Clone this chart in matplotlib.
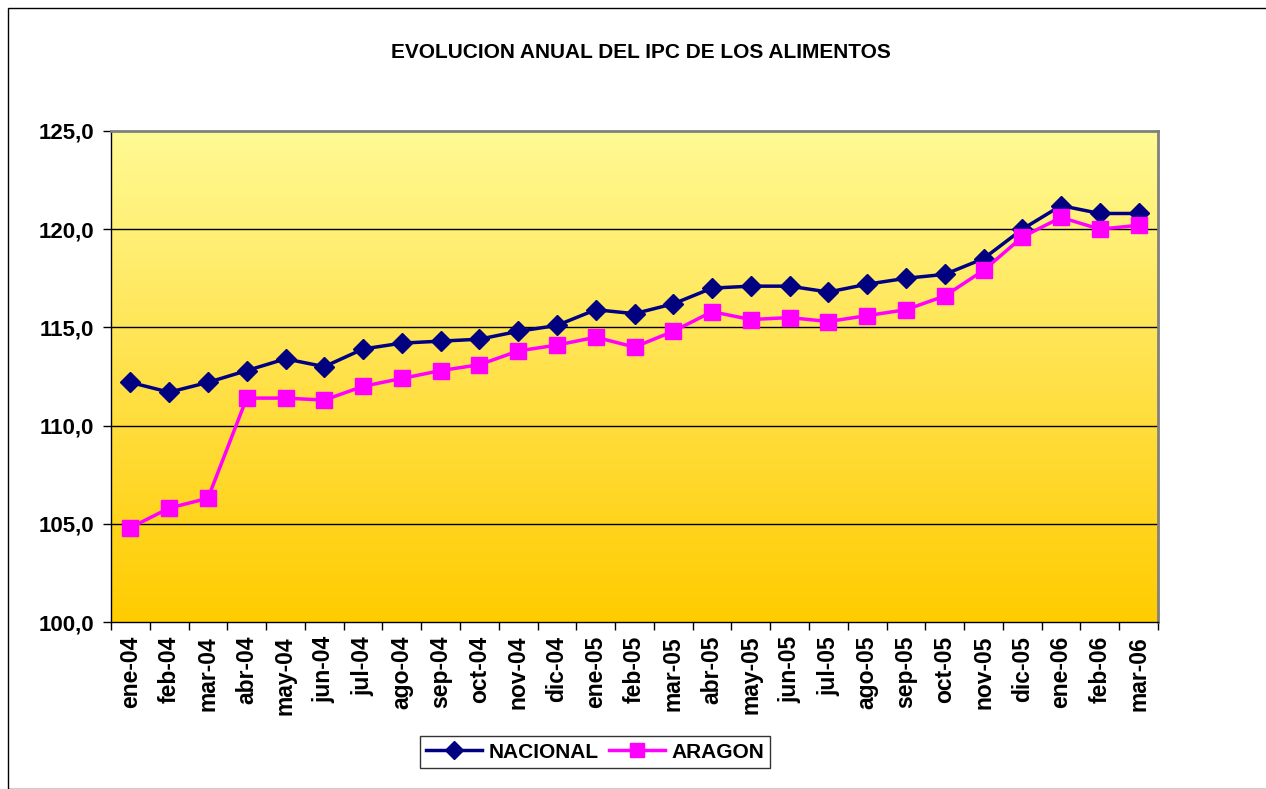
import numpy as np
import matplotlib
matplotlib.use("Agg")
import matplotlib.pyplot as plt
from matplotlib.patches import Rectangle
from matplotlib.colors import LinearSegmentedColormap

months = ["ene-04", "feb-04", "mar-04", "abr-04", "may-04", "jun-04", "jul-04",
          "ago-04", "sep-04", "oct-04", "nov-04", "dic-04", "ene-05", "feb-05",
          "mar-05", "abr-05", "may-05", "jun-05", "jul-05", "ago-05", "sep-05",
          "oct-05", "nov-05", "dic-05", "ene-06", "feb-06", "mar-06"]
nacional = [112.2, 111.7, 112.2, 112.8, 113.4, 113.0, 113.9, 114.2, 114.3, 114.4,
            114.8, 115.1, 115.9, 115.7, 116.2, 117.0, 117.1, 117.1, 116.8, 117.2,
            117.5, 117.7, 118.5, 120.0, 121.2, 120.8, 120.8]
aragon = [104.8, 105.8, 106.3, 111.4, 111.4, 111.3, 112.0, 112.4, 112.8, 113.1,
          113.8, 114.1, 114.5, 114.0, 114.8, 115.8, 115.4, 115.5, 115.3, 115.6,
          115.9, 116.6, 117.9, 119.6, 120.6, 120.0, 120.2]
y_ticks = [100, 105, 110, 115, 120, 125]

plt.rcParams['font.family'] = ['Liberation Sans', 'DejaVu Sans']
plt.rcParams['font.weight'] = 'bold'

W, H = 1266, 789
fig = plt.figure(figsize=(W / 100, H / 100), dpi=100)

# outer chart frame
fig.patches.append(Rectangle((8 / W, 0), 1.2, 1 - 8 / H, transform=fig.transFigure,
                             fill=False, edgecolor='black', linewidth=1.0))

ax = fig.add_axes([111 / W, 1 - 622 / H, (1158 - 111) / W, (622 - 131) / H])

# vertical yellow gradient background
cmap = LinearSegmentedColormap.from_list("bg", ["#FFCC00", "#FFE14A", "#FFFA94"])
grad = np.linspace(0, 1, 256).reshape(-1, 1)
ax.imshow(grad, cmap=cmap, aspect='auto', origin='lower',
          extent=[0, 1, 0, 1], transform=ax.transAxes, zorder=0)

x = np.arange(len(months))
ax.set_xlim(-0.5, len(months) - 0.5)
ax.set_ylim(100, 125)

for v in y_ticks[1:-1]:
    ax.axhline(v, color='black', linewidth=1.0, zorder=1)

ax.plot(x, nacional, color='#000080', linewidth=2.5, marker='D', markersize=10,
        markeredgecolor='#000080', markerfacecolor='#000080', label='NACIONAL', zorder=3)
ax.plot(x, aragon, color='#FF00FF', linewidth=2.5, marker='s', markersize=11,
        markeredgecolor='#FF00FF', markerfacecolor='#FF00FF', label='ARAGON', zorder=4)

ax.set_yticks(y_ticks)
ax.set_yticklabels([f"{v:.1f}".replace('.', ',') for v in y_ticks],
                   fontsize=16, fontweight='bold')
ax.set_xticks(x)
ax.set_xticklabels(months, rotation=90, fontsize=16.5, fontweight='bold')
ax.set_xticks(np.arange(len(months) + 1) - 0.5, minor=True)
ax.tick_params(axis='x', which='major', length=0, pad=10)
ax.tick_params(axis='x', which='minor', length=6, width=1, color='black')
ax.tick_params(axis='y', length=6, width=1, color='black', pad=6)

for side in ['left', 'bottom']:
    ax.spines[side].set_color('black')
    ax.spines[side].set_linewidth(1.0)
for side in ['top', 'right']:
    ax.spines[side].set_color('#808080')
    ax.spines[side].set_linewidth(2.0)

fig.text(641 / W, 1 - 52 / H, "EVOLUCION ANUAL DEL IPC DE LOS ALIMENTOS",
         ha='center', va='center', fontsize=15, fontweight='bold')

leg = fig.legend(loc='center', bbox_to_anchor=(595 / W, 1 - 752 / H), ncol=2,
                 fontsize=15, frameon=True, fancybox=False, edgecolor='black',
                 handlelength=2.7, columnspacing=0.5, handletextpad=0.3,
                 borderpad=0.3, borderaxespad=0, markerscale=0.9)
leg.get_frame().set_linewidth(1.0)
for t in leg.get_texts():
    t.set_fontweight('bold')

fig.savefig("out.png", dpi=100)
